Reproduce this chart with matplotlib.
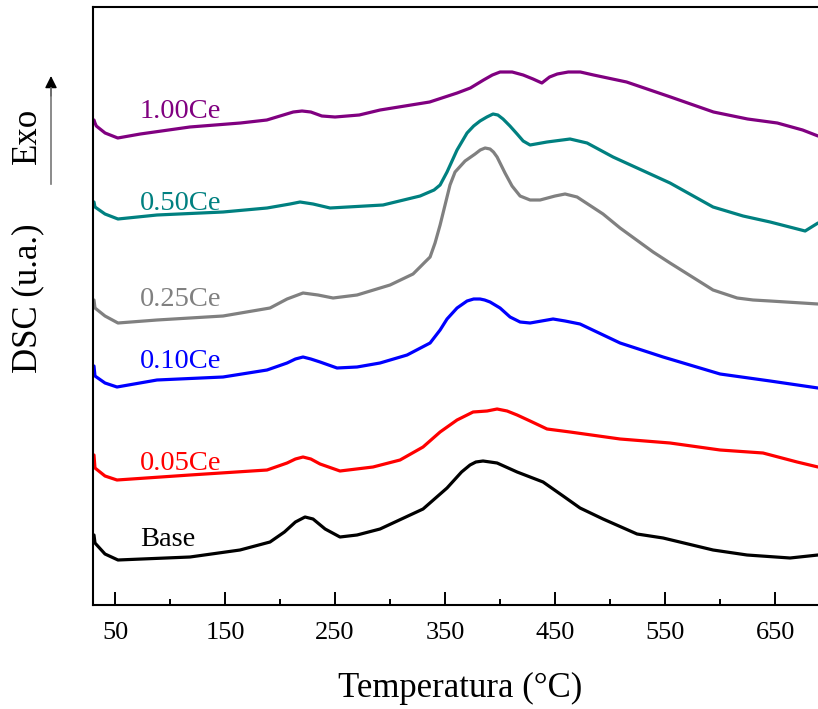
import matplotlib

matplotlib.use("Agg")
import matplotlib.pyplot as plt
from matplotlib.lines import Line2D

# DSC curves (temperature in °C, signal in arbitrary units)
t_100 = [30.9, 31.8, 33, 41, 52.5, 73, 118, 164, 188, 200, 212, 220, 228, 238, 250,
         272, 291, 336, 361, 373, 385, 393, 400, 411, 421, 430, 438, 445, 452, 462,
         473, 485, 515, 555, 594, 625, 652, 675, 689]
v_100 = [483, 480, 477, 470, 465, 469, 476, 480, 483, 487, 491, 492, 491, 487, 486,
         488, 493, 501, 510, 515, 523, 528, 531, 531, 528, 524, 520, 526, 529, 531,
         531, 528, 521, 506, 491, 484, 480, 473, 467]

t_050 = [30.9, 31.8, 40.9, 52.7, 88.2, 148.2, 188.2, 209.1, 218.2, 230, 245.5, 293.6,
         327.3, 340, 345.5, 351.8, 360.9, 370, 376, 381.8, 388, 393.6, 398, 402.7,
         409, 415.5, 421, 427.3, 442.7, 463.6, 479.1, 502.7, 554.5, 593.6, 620.9,
         645.5, 677.3, 689]
v_050 = [401, 396, 389, 384, 388, 391, 395, 399, 401, 399, 395, 398, 407, 413, 418,
         431, 453, 470, 477, 482, 486, 489, 488, 484, 477, 469, 462, 458, 461, 464,
         460, 446, 420, 396, 387, 381, 372, 380]

t_025 = [30.9, 31.8, 40.9, 52.7, 88.2, 148.2, 190.9, 206.4, 220.9, 234.5, 248.2, 270,
         300, 320.9, 327.3, 331.8, 336.4, 340.9, 345.5, 350, 354.5, 359.1, 368.2,
         377.3, 382, 386.4, 390.9, 394, 397.3, 404.5, 410.9, 418.2, 427.3, 436.4,
         450, 459.1, 470, 493.6, 509.1, 539.1, 554.5, 593.6, 615.5, 630, 645.5, 689]
v_025 = [303, 295, 287, 280, 283, 287, 295, 304, 310, 308, 305, 308, 318, 329, 336,
         341, 346, 360, 378, 398, 418, 431, 442, 449, 453, 455, 454, 451, 446, 430,
         417, 407, 403, 403, 407, 409, 406, 389, 375, 351, 340, 313, 305, 303, 302,
         299]

t_010 = [30.9, 31.8, 40.9, 51.8, 88.2, 148.2, 188.2, 206.4, 214, 220.9, 228, 236.4,
         251.8, 270, 290.9, 315.5, 336.4, 345.5, 351.8, 360.9, 370, 376, 381.8, 386,
         390.9, 400, 409.1, 418.2, 427.3, 448.2, 459.1, 472.7, 509.1, 548.2, 600,
         645.5, 689]
v_010 = [237, 227, 220, 216, 223, 226, 233, 240, 244, 246, 244, 241, 235, 236, 240,
         248, 260, 273, 284, 295, 302, 304, 304, 303, 301, 295, 286, 281, 280, 284,
         282, 279, 260, 246, 229, 222, 215]

t_005 = [30.9, 31.8, 40.9, 51.8, 118.2, 188.2, 206.4, 214, 220.9, 228, 236.4, 254.5,
         284.5, 309.1, 330, 345.5, 360.9, 375.5, 388.2, 397.3, 406.4, 415.5, 427.3,
         442.7, 463.6, 509.1, 554.5, 600, 639, 670, 689]
v_005 = [148, 135, 127, 123, 128, 133, 140, 144, 146, 144, 139, 132, 136, 143, 156,
         171, 183, 191, 192, 194, 192, 188, 182, 174, 171, 164, 160, 153, 150, 141,
         136]

t_base = [30.9, 31.8, 40.9, 52.7, 118.2, 163.6, 190.9, 204, 214, 222.7, 230, 241,
          254.5, 270, 290.9, 330, 351.8, 365, 372.7, 378, 384.5, 391, 397.3, 415.5,
          439.1, 457.3, 472.7, 493.6, 524.5, 548.2, 593.6, 624.5, 663.6, 689]
v_base = [68, 60, 49, 43, 46, 53, 61, 71, 81, 86, 84, 74, 66, 68, 74, 94, 115, 131,
          138, 141, 142, 141, 140, 131, 121, 107, 95, 84, 69, 65, 53, 48, 45, 48]

series = [
    ("1.00Ce", t_100, v_100, "#800080", 492),
    ("0.50Ce", t_050, v_050, "#008080", 399),
    ("0.25Ce", t_025, v_025, "#808080", 303),
    ("0.10Ce", t_010, v_010, "#0000ff", 241),
    ("0.05Ce", t_005, v_005, "#ff0000", 140),
    ("Base", t_base, v_base, "#000000", 63),
]

major_ticks = [50, 150, 250, 350, 450, 550, 650]
minor_ticks = [100, 200, 300, 400, 500, 600]

plt.rcParams["font.family"] = ["Liberation Serif", "DejaVu Serif"]

fig = plt.figure(figsize=(8.18, 7.09), dpi=100)
ax = fig.add_axes([93 / 818, 104 / 709, 725 / 818, 598 / 709])

for name, t, v, color, label_y in series:
    ax.plot(t, v, color=color, lw=2.3, solid_joinstyle="round", solid_capstyle="round")
    ax.text(72.5, label_y, name, color=color, fontsize=20.5, va="center", ha="left")

ax.set_xlim(30, 689)
ax.set_ylim(-2, 596)
ax.set_xticks(major_ticks)
ax.set_xticks(minor_ticks, minor=True)
ax.set_yticks([])
ax.tick_params(axis="x", which="major", direction="in", length=9.5, width=1.4,
               labelsize=19, pad=12)
ax.tick_params(axis="x", which="minor", direction="in", length=4.5, width=1.4)
for side in ("left", "bottom", "top"):
    ax.spines[side].set_linewidth(1.5)
ax.spines["right"].set_visible(False)

fig.text(460 / 818, 1 - 688 / 709, "Temperatura (°C)", fontsize=25,
         ha="center", va="center")
fig.text(28 / 818, 1 - 298 / 709, "DSC (u.a.)", fontsize=25, rotation=90,
         ha="center", va="center")
fig.text(27 / 818, 1 - 136 / 709, "Exo", fontsize=25, rotation=90,
         ha="center", va="center")

# "Exo" arrow: grey shaft, black head
fig.add_artist(Line2D([51 / 818, 51 / 818], [1 - 184 / 709, 1 - 88 / 709],
                      transform=fig.transFigure, color="#777777", lw=1.2))
ax.annotate("", xy=(51 / 818, 1 - 76 / 709), xycoords="figure fraction",
            xytext=(51 / 818, 1 - 96 / 709), textcoords="figure fraction",
            arrowprops=dict(arrowstyle="-|>", color="black", lw=1.0,
                            mutation_scale=18, shrinkA=0, shrinkB=0))

fig.savefig("out.png", dpi=100)
plt.close(fig)
